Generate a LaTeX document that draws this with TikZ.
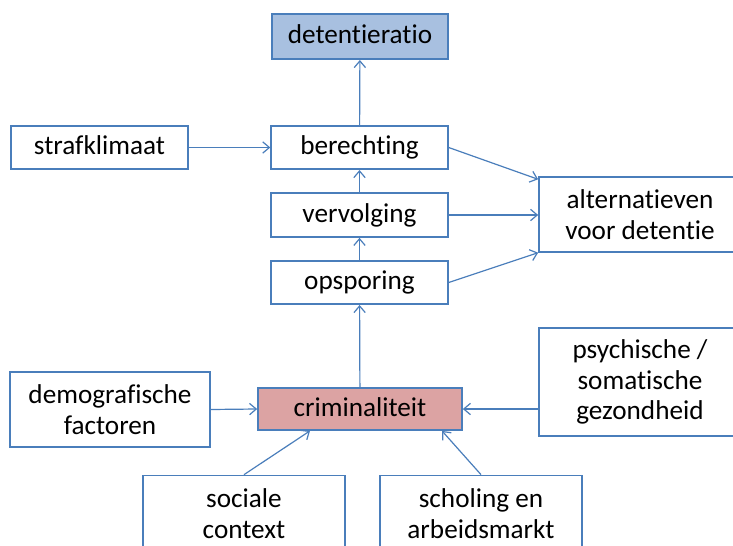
\documentclass[tikz,border=0pt]{standalone}
\usepackage{fontspec}
\setmainfont{Carlito}[Ligatures={NoCommon,NoContextual}]
\usepackage{xcolor}
\definecolor{lijn}{HTML}{4A7EBB}
\definecolor{blauw}{HTML}{A8C0E0}
\definecolor{rood}{HTML}{DCA3A3}
\usetikzlibrary{arrows.meta,calc}

\begin{document}
\begin{tikzpicture}[x=0.75pt,y=0.75pt,yscale=-1,xscale=1,
		blok/.style={draw=lijn,line width=1.3pt,fill=white,align=center,inner sep=0pt,
			font=\fontsize{20.4}{23}\selectfont,text height=14pt,text depth=3pt},
		pijl/.style={draw=lijn,line width=0.9pt,-{Straight Barb[length=5pt,width=8.5pt]}}]
		\clip (0,0) rectangle (733,546);
		\fill [white] (0,0) rectangle (733,546);
		% bovenste rij
		\node [blok,fill=blauw,minimum width=132pt,minimum height=34pt] (detentie) at (360,36.5) {detentieratio};
		\node [blok,minimum width=132.5pt,minimum height=32.5pt] (straf) at (99.5,147.5) {strafklimaat};
		\node [blok,minimum width=132.5pt,minimum height=32.5pt] (berechting) at (359.5,147.5) {berechting};
		\node [blok,minimum width=132.5pt,minimum height=33pt] (vervolging) at (359.5,215) {vervolging};
		\node [blok,minimum width=132.5pt,minimum height=32.5pt] (opsporing) at (359.5,282.5) {opsporing};
		\node [blok,minimum width=151.5pt,minimum height=56pt,text height=,text depth=] (alternatief) at (640,214.5) {alternatieven\\voor detentie};
		% onderste rij
		\node [blok,fill=rood,minimum width=153pt,minimum height=31.5pt] (crimi) at (360,409) {criminaliteit};
		\node [blok,minimum width=150pt,minimum height=56pt,text height=,text depth=] (demo) at (110,409.5) {demografische\\factoren};
		\node [blok,minimum width=151.5pt,minimum height=81pt,text height=,text depth=] (psych) at (640,382) {psychische /\\somatische\\gezondheid};
		\node [blok,minimum width=151.5pt,minimum height=57pt,text height=,text depth=] (sociaal) at (244,513.5) {sociale\\context};
		\node [blok,minimum width=151.5pt,minimum height=57pt,text height=,text depth=] (scholing) at (481,513.5) {scholing en\\arbeidsmarkt};
		% pijlen
		\draw [pijl] (berechting) -- (detentie);
		\draw [pijl] (straf) -- (berechting);
		\draw [pijl] (vervolging) -- (berechting);
		\draw [pijl] (opsporing) -- (vervolging);
		\draw [pijl] (crimi) -- (opsporing);
		\draw [pijl] (berechting.east) -- ($(alternatief.north west)+(0,3)$);
		\draw [pijl] (vervolging.east) -- (alternatief.west |- vervolging.east);
		\draw [pijl] (opsporing.east) -- (alternatief.south west);
		\draw [pijl] (demo.east) -- (crimi.west);
		\draw [pijl] (psych.west |- crimi.east) -- (crimi.east);
		\draw [pijl] (sociaal.north) -- ($(crimi.south)+(-50,0)$);
		\draw [pijl] (scholing.north) -- ($(crimi.south)+(82,0)$);
\end{tikzpicture}
\end{document}
